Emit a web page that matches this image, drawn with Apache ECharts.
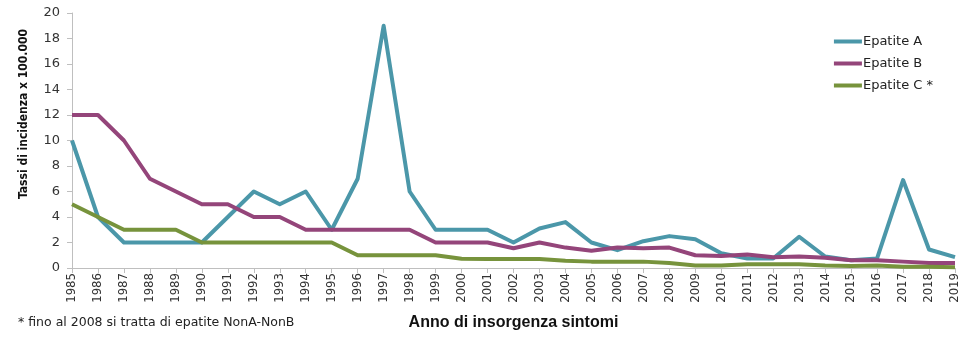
<!DOCTYPE html>
<html><head><meta charset="utf-8">
<script src="https://cdn.jsdelivr.net/npm/echarts@6/dist/echarts.min.js"></script>
<style>html,body{margin:0;padding:0;background:#fff}#c{width:978px;height:343px}</style>
</head><body><div id="c"></div>
<script>
const years = ['1985','1986','1987','1988','1989','1990','1991','1992','1993','1994','1995','1996','1997','1998','1999','2000','2001','2002','2003','2004','2005','2006','2007','2008','2009','2010','2011','2012','2013','2014','2015','2016','2017','2018','2019'];
const epatiteA = [10,4,2,2,2,2,4,6,5,6,3,7,19,6,3,3,3,2,3.1,3.6,2,1.4,2.1,2.5,2.25,1.15,0.75,0.75,2.45,0.9,0.6,0.75,6.9,1.45,0.85];
const epatiteB = [12,12,10,7,6,5,5,4,4,3,3,3,3,3,2,2,2,1.55,2,1.6,1.35,1.6,1.55,1.6,1.0,0.95,1.05,0.85,0.9,0.8,0.6,0.6,0.5,0.4,0.4];
const epatiteC = [5,4,3,3,3,2,2,2,2,2,2,1,1,1,1,0.73,0.7,0.7,0.7,0.57,0.5,0.5,0.5,0.4,0.2,0.2,0.3,0.3,0.3,0.2,0.15,0.2,0.1,0.1,0.05];
const seriesNames = ['Epatite A','Epatite B','Epatite C *'];
const colors = ['#4b97a9','#94457a','#77933c'];
const condensed = "'DejaVu Sans Condensed', Roboto, sans-serif";
const chart = echarts.init(document.getElementById('c'));
const mk = (name, data, color) => ({name, type:'line', data, symbol:'none', smooth:false,
  lineStyle:{width:4, color, join:'round'}, itemStyle:{color}});
chart.setOption({
  animation:false,
  grid:{left:72, right:23, top:13, bottom:75, containLabel:false},
  legend:{orient:'vertical', right:40, top:30, itemWidth:28, itemHeight:4, itemGap:9,
    icon:'rect', data:seriesNames,
    textStyle:{fontFamily:'DejaVu Sans', fontSize:13, color:'#222', padding:[0,0,0,-4]}},
  xAxis:{type:'category', data:years, boundaryGap:false,
    axisLine:{lineStyle:{color:'#bfbfbf', width:1}},
    axisTick:{show:true, alignWithLabel:true, length:5, lineStyle:{color:'#bfbfbf'}},
    axisLabel:{rotate:90, interval:0, fontFamily:condensed, fontSize:13, color:'#333', margin:5},
    name:'Anno di insorgenza sintomi', nameLocation:'middle', nameGap:47,
    nameTextStyle:{fontFamily:'Liberation Sans', fontWeight:'bold', fontSize:16, color:'#111'}},
  yAxis:{type:'value', min:0, max:20, interval:2,
    axisLine:{show:true, lineStyle:{color:'#bfbfbf'}},
    axisTick:{show:true, length:5, lineStyle:{color:'#bfbfbf'}},
    splitLine:{show:false},
    axisLabel:{fontFamily:'DejaVu Sans', fontSize:13, color:'#333', margin:12}},
  graphic:[
    {type:'text', x:24, y:114, rotation:Math.PI/2,
      style:{text:'Tassi di incidenza x 100.000', fontFamily:condensed, fontWeight:'bold', fontSize:12, fill:'#111', align:'center', verticalAlign:'middle'}},
    {type:'text', left:18, top:316,
      style:{text:'* fino al 2008 si tratta di epatite NonA-NonB', fontFamily:'DejaVu Sans', fontSize:12.5, fill:'#222'}}],
  series:[mk(seriesNames[0], epatiteA, colors[0]), mk(seriesNames[1], epatiteB, colors[1]), mk(seriesNames[2], epatiteC, colors[2])]
});
</script></body></html>
